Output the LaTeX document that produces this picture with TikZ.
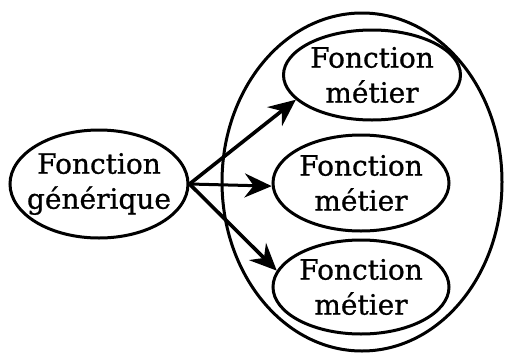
\documentclass[tikz,border=0pt]{standalone}
\usepackage{fontspec}
\setmainfont[FakeBold=0.8]{DejaVu Serif}
\usetikzlibrary{shapes.geometric,arrows.meta}
\tikzset{
  oval/.style={draw, ellipse, line width=3pt, inner sep=0pt},
  txt/.style={font=\fontsize{28}{35}\selectfont, align=center, inner sep=0pt},
  link/.style={line width=3.6pt, -{Stealth[length=27pt,width=24pt,inset=9pt]}}
}
\begin{document}
\begin{tikzpicture}[x=1pt,y=-1pt]
\useasboundingbox (0,0) rectangle (506,362);
\node[oval, minimum width=280pt, minimum height=338pt] (big) at (362,182) {};
\node[oval, minimum width=178pt, minimum height=108pt,
  label={[txt]center:Fonction\\générique}] (gen) at (99,184) {};
\node[oval, minimum width=177pt, minimum height=90pt,
  label={[txt]center:Fonction\\métier}] (m1) at (372,75) {};
\node[oval, minimum width=176pt, minimum height=96pt,
  label={[txt]center:Fonction\\métier}] (m2) at (361,183) {};
\node[oval, minimum width=176pt, minimum height=94pt,
  label={[txt]center:Fonction\\métier}] (m3) at (361,287) {};
\draw[link] (gen.east) -- (m1.198);
\draw[link, line width=3pt] (gen.east) -- (m2.182);
\draw[link] (gen.east) -- (m3.169);
\end{tikzpicture}
\end{document}
